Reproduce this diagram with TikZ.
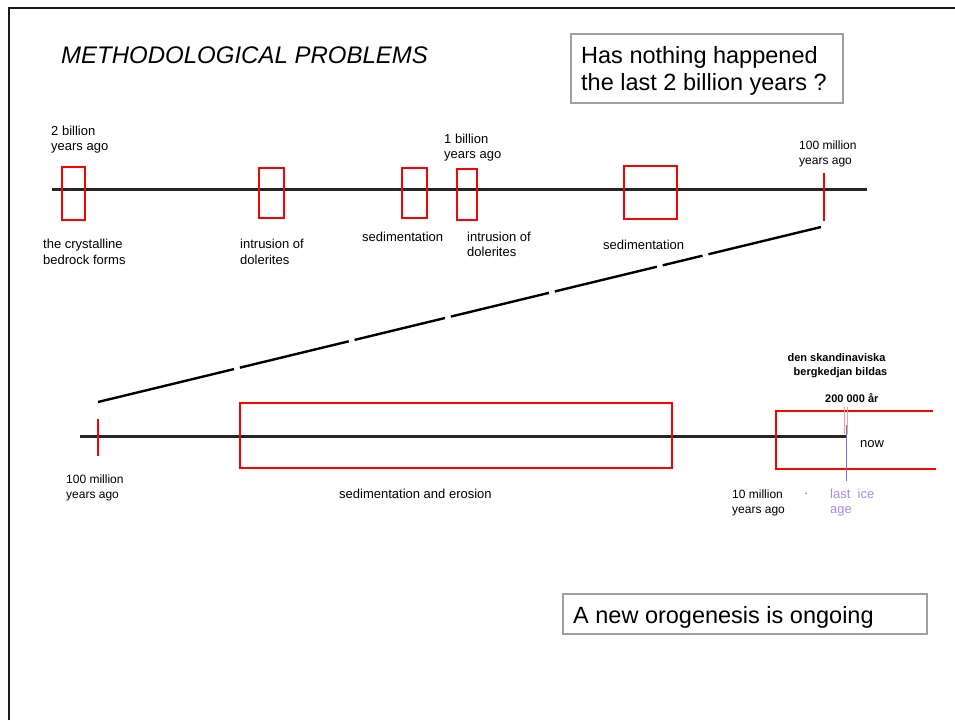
\documentclass[tikz,border=0pt]{standalone}
\usepackage{fontspec}
\setmainfont{Liberation Sans}
\definecolor{boxgrey}{HTML}{A0A0A0}
\definecolor{iceblue}{HTML}{7070D0}
\definecolor{icetext}{HTML}{A08CFF}
\definecolor{pinkline}{HTML}{FF9A9A}
\begin{document}
\begin{tikzpicture}[x=1pt,y=-1pt,
  redbox/.style={draw=red, line width=2pt, inner sep=0pt, minimum width=#1},
  redtick/.style={draw=red, line width=2pt},
  axisline/.style={draw=black!85, line width=3pt},
  framel/.style={draw=black!90, line width=2pt},
  greybox/.style={draw=boxgrey, line width=1.3pt, inner sep=0pt},
  lbl/.style={anchor=base west, inner sep=0pt, font=\fontsize{13}{15}\selectfont},
  lbls/.style={anchor=base west, inner sep=0pt, font=\fontsize{12}{14}\selectfont},
  boldlbl/.style={anchor=base, inner sep=0pt, font=\fontsize{11}{13}\selectfont\bfseries},
  big/.style={anchor=base west, inner sep=0pt, font=\fontsize{23.5}{27}\selectfont},
  linkline/.style={draw=black, line width=2.4pt,
    dash pattern=on 140pt off 6pt on 112pt off 6pt on 93pt off 6pt on 101pt off 6pt on 105pt off 6pt on 41pt off 6pt on 300pt off 6pt}
]
\useasboundingbox (0,0) rectangle (955,720);

% frame
\draw[framel] (9,720) -- (9,8) -- (955,8);

% title
\node[big, font=\fontsize{24}{27}\selectfont\itshape] (title) at (61,63) {METHODOLOGICAL PROBLEMS};

% question box
\node[greybox, minimum width=272, minimum height=69] (qbox) at (707,68.5) {};
\node[big] (q1) at (581,63) {Has nothing happened};
\node[big] (q2) at (581,90) {the last 2 billion years ?};

% top timeline
\coordinate (ta1) at (52,189);
\coordinate (ta2) at (867,189);
\draw[axisline] (ta1) -- (ta2);
\node[redbox=23, minimum height=53] (b1) at (73.5,193.5) {};
\node[redbox=25, minimum height=50] (b2) at (271.5,193) {};
\node[redbox=25, minimum height=50] (b3) at (414.5,193) {};
\node[redbox=20, minimum height=51] (b4) at (467,194.5) {};
\node[redbox=53, minimum height=53] (b5) at (650.5,192.5) {};
\coordinate (t1a) at (824,173);
\coordinate (t1b) at (824,221);
\draw[redtick] (t1a) -- (t1b);

% top labels
\node[lbl] (l2a) at (51,135) {2 billion};
\node[lbl] (l2b) at (51,150) {years ago};
\node[lbl] (l1a) at (444,143) {1 billion};
\node[lbl] (l1b) at (444,158) {years ago};
\node[lbls] (l100a) at (799,149) {100 million};
\node[lbls] (l100b) at (799,164) {years ago};
\node[lbl] (c1) at (43,248) {the crystalline};
\node[lbl] (c2) at (43,264) {bedrock forms};
\node[lbl] (d1) at (240,248) {intrusion of};
\node[lbl] (d2) at (240,264) {dolerites};
\node[lbl] (s1) at (362,241) {sedimentation};
\node[lbl] (e1) at (467,241) {intrusion of};
\node[lbl] (e2) at (467,256) {dolerites};
\node[lbl] (s2) at (603,249) {sedimentation};

% link between the two scales
\coordinate (lkTop) at (821,227);
\coordinate (lkBot) at (98,402);
\draw[linkline] (lkBot) -- (lkTop);

% lower timeline
\coordinate (la1) at (80,436);
\coordinate (la2) at (846,436);
\draw[axisline] (la1) -- (la2);
\coordinate (t2a) at (98,419);
\coordinate (t2b) at (98,456);
\draw[redtick] (t2a) -- (t2b);
\node[redbox=432, minimum height=65] (bigbox) at (456,435.5) {};
\coordinate (ob1) at (933,411);
\coordinate (ob2) at (776,411);
\coordinate (ob3) at (776,469);
\coordinate (ob4) at (936,469);
\draw[redtick, line join=miter] (ob1) -- (ob2) -- (ob3) -- (ob4);
\coordinate (pk1) at (844,407);
\coordinate (pk2) at (844,434);
\coordinate (pk3) at (847.5,407);
\coordinate (pk4) at (847.5,434);
\draw[pinkline, line width=1pt] (pk1) -- (pk2) (pk3) -- (pk4);
\coordinate (ice1) at (846,425);
\coordinate (ice2) at (846,481);
\draw[iceblue, line width=1pt] (ice1) -- (ice2);

% lower labels
\node[boldlbl] (sk1) at (836.5,361) {den skandinaviska};
\node[boldlbl] (sk2) at (840.5,375) {bergkedjan bildas};
\node[boldlbl, anchor=base west] (yr) at (825,402) {200 000 år};
\node[lbl] (now) at (860,447) {now};
\node[lbls] (m1) at (66,483) {100 million};
\node[lbls] (m2) at (66,498) {years ago};
\node[lbl] (se) at (339,498) {sedimentation and erosion};
\node[lbls] (tm1) at (732,498) {10 million};
\node[lbls] (tm2) at (732,513) {years ago};
\node[lbl, text=black!60] (dot) at (804,497) {·};
\node[lbl, text=icetext] (ic1) at (830,498) {last\ \ ice};
\node[lbl, text=icetext] (ic2) at (830,513) {age};

% orogenesis box
\node[greybox, minimum width=364, minimum height=40] (obox) at (745,614) {};
\node[big] (o1) at (573,623) {A new orogenesis is ongoing};
\end{tikzpicture}
\end{document}
